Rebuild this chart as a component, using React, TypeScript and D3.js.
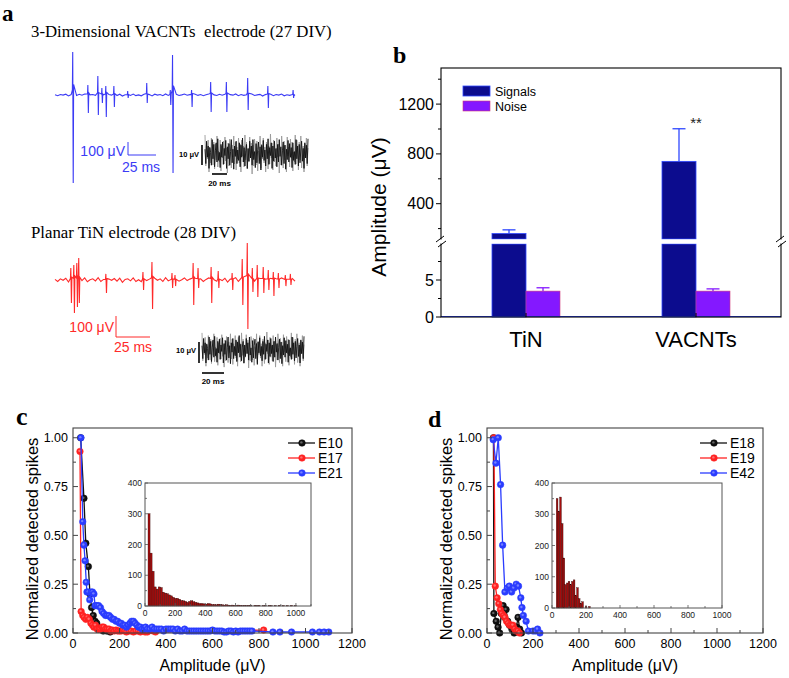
import React from 'react';
import * as d3 from 'd3';

// ---------------- Panel a data ----------------
// [time (ms), positive peak (µV), negative trough (µV)]
const blueSpikes: number[][] = [
  [16, 330, 677], [29.5, 77, 138], [38.4, 146, 154], [42, 54, 62], [45.5, 69, 169],
  [52.7, 69, 92], [65, 31, 23], [82, 92, 62], [103, 38, 77], [105, 308, 600],
  [122, 38, 92], [139, 100, 131], [153, 100, 131], [172, 131, 115], [190, 69, 100], [212.5, 38, 23],
];
const redSpikes: number[][] = [
  [11.8, 57, 110], [14.0, 71, 157], [16.2, 81, 129], [17.6, 105, 110], [37.5, 29, 62],
  [64.7, 38, 48], [71.3, 86, 138], [86.0, 33, 38], [88.2, 24, 29], [101.5, 81, 119],
  [105.1, 57, 38], [114.7, 62, 110], [119.9, 43, 38], [130.1, 33, 48], [137.5, 100, 119],
  [141.2, 176, 233], [144.9, 57, 57], [148.5, 71, 81], [152.9, 62, 62], [156.6, 48, 48],
  [160.3, 38, 76], [164.0, 33, 38], [169.1, 24, 29], [172.8, 29, 24],
];
const baselineJitter = [
  0.2, -0.5, 0.4, -0.1, 0.6, -0.7, 0.3, 0.0, -0.4, 0.5, -0.2, 0.7, -0.6, 0.1, 0.4, -0.3,
  0.8, -0.5, 0.2, -0.6, 0.3, -0.1, 0.5, -0.4, 0.6, -0.8, 0.2, 0.4, -0.3, 0.7, -0.5, 0.1,
  -0.6, 0.5, -0.2, 0.3, -0.7, 0.6, -0.1, 0.4, -0.5, 0.8, -0.3, 0.2, -0.6, 0.5, -0.4, 0.1,
  0.7, -0.2, 0.3, -0.8, 0.6, -0.3, 0.4, -0.5, 0.2, 0.7, -0.6, 0.1, -0.4, 0.5, -0.2, 0.6,
  -0.7, 0.3, -0.1, 0.8, -0.5, 0.4, -0.3, 0.2, -0.6, 0.7, -0.4, 0.1, 0.5, -0.8, 0.3, -0.2,
  0.6, -0.5, 0.4, -0.1, 0.7, -0.6, 0.2, -0.3, 0.5, -0.4,
];
const noiseTrace = [
  0.3, -0.6, 0.8, -0.2, 0.5, -0.9, 0.4, 0.1, -0.7, 0.9, -0.3, 0.6, -0.8, 0.2, 0.7, -0.5,
  0.95, -0.4, 0.1, -0.85, 0.6, -0.2, 0.75, -0.65, 0.35, -0.1, 0.85, -0.9, 0.45, -0.3, 0.65,
  -0.7, 0.15, 0.9, -0.55, 0.3, -0.95, 0.5, -0.15, 0.8, -0.6, 0.25, -0.4, 0.7, -0.8, 0.55,
  -0.2, 1.0, -0.5, 0.4, -0.75, 0.2, 0.6, -0.9, 0.35, -0.45, 0.8, -0.25, 0.5, -0.7, 0.9,
  -0.35, 0.15, -0.85, 0.65, -0.55, 0.3, 0.75, -0.6, 0.45, -1.0, 0.55, -0.2, 0.85, -0.4,
  0.25, -0.75, 0.6, -0.3, 0.95, -0.65, 0.4, -0.1, 0.7, -0.9, 0.5, -0.45, 0.8, -0.25, 0.35,
  -0.8, 0.6, -0.5, 0.9, -0.15, 0.45, -0.7, 0.2, 0.75, -0.6, 0.55, -0.95, 0.3, -0.35, 0.85,
  -0.5, 0.65, -0.2, 0.4, -0.85, 0.7, -0.4, 0.15, -0.65, 0.9, -0.3, 0.5, -0.75, 0.6, -0.55,
  0.25, 0.8, -0.45, 0.35, -0.9, 0.7, -0.25, 0.55, -0.6, 0.95,
];

// ---------------- Panel b data ----------------
const categories = ['TiN', 'VACNTs'];
const seriesNames = ['Signals', 'Noise'];
const signalMeans = [160, 740];
const signalErrors = [30, 262];
const noiseMeans = [3.5, 3.5];
const noiseErrors = [0.45, 0.3];
const lowerTicks = [0, 5];
const lowerMinor = [2.5, 7.5];
const upperTicks = [400, 800, 1200];
const upperMinor = [200, 600, 1000, 1400];

// ---------------- Panel c data ----------------
const cE10 = [[33,1.0],[47,0.69],[55,0.46],[66,0.34],[73,0.2],[80,0.13],[87,0.09],[95,0.06],[102,0.05],[109,0.02],[120,0.02],[130,0.01],[145,0.01],[160,0.005]];
const cE17 = [[30,0.93],[35,0.11],[42,0.09],[48,0.08],[55,0.07],[62,0.08],[70,0.07],[77,0.05],[84,0.04],[90,0.03],[97,0.04],[104,0.02],[111,0.02],[118,0.02],[125,0.03],[132,0.03],[140,0.02],[147,0.02],[155,0.02],[162,0.01],[170,0.015],[177,0.01],[185,0.015],[192,0.01],[200,0.01],[207,0.01],[215,0.015],[222,0.01],[230,0.005],[240,0.01],[250,0.01],[260,0.005],[270,0.01],[280,0.01],[290,0.005],[300,0.01],[310,0.005],[320,0.005],[335,0.015],[345,0.01],[355,0.005],[820,0.015]];
const cE21 = [[34,1.0],[42,0.57],[47,0.45],[52,0.37],[57,0.26],[60,0.21],[66,0.21],[72,0.17],[78,0.21],[84,0.21],[90,0.2],[95,0.14],[102,0.14],[110,0.14],[118,0.13],[125,0.11],[132,0.1],[140,0.09],[147,0.09],[155,0.09],[162,0.08],[170,0.07],[177,0.07],[185,0.06],[192,0.06],[200,0.05],[207,0.05],[215,0.04],[222,0.04],[230,0.03],[237,0.04],[245,0.05],[252,0.06],[260,0.06],[267,0.05],[275,0.04],[282,0.03],[290,0.03],[297,0.02],[305,0.02],[312,0.03],[320,0.02],[330,0.02],[340,0.03],[350,0.02],[360,0.02],[370,0.02],[380,0.02],[390,0.01],[400,0.02],[410,0.02],[420,0.02],[430,0.02],[440,0.01],[450,0.02],[460,0.01],[470,0.01],[480,0.02],[490,0.01],[500,0.01],[510,0.01],[520,0.01],[530,0.01],[540,0.01],[550,0.01],[560,0.01],[570,0.01],[580,0.01],[590,0.01],[600,0.015],[610,0.01],[620,0.01],[630,0.01],[640,0.01],[650,0.005],[660,0.005],[670,0.01],[680,0.01],[690,0.005],[700,0.01],[710,0.005],[720,0.01],[730,0.01],[740,0.01],[750,0.01],[760,0.01],[770,0.01],[860,0.005],[890,0.005],[940,0.005],[1030,0.005],[1060,0.005],[1080,0.005],[1100,0.005]];
const cLegend = ['E10', 'E17', 'E21'];
const histCStart = 20;
const histCWidth = 13.5;
const histCCounts = [300,172,113,62,55,62,60,45,42,40,36,33,28,25,25,22,18,17,15,12,15,17,14,12,10,8,8,7,6,8,7,5,5,4,6,5,4,3,4,3,2,3,2,2,3,2,1,2,1,2,1,0,2,1,2,0,1,1,0,2,1,0,1,0,2,0,1,0,1,0,2,0,1];

// ---------------- Panel d data ----------------
const dE18 = [[28,1.0],[30,0.1],[40,0.06],[48,0.03],[55,0.0],[62,0.1],[70,0.14],[77,0.08],[83,0.12],[90,0.06],[98,0.04],[108,0.02],[118,0.0],[128,0.03],[135,0.08],[142,0.02],[150,0.0]];
const dE19 = [[30,1.0],[36,0.24],[44,0.18],[51,0.15],[58,0.12],[65,0.1],[72,0.09],[78,0.08],[85,0.06],[92,0.05],[99,0.04],[106,0.04],[113,0.04],[120,0.02],[127,0.01],[134,0.01],[141,0.0]];
const dE42 = [[27,0.99],[39,0.87],[49,1.0],[59,0.76],[68,0.45],[78,0.21],[88,0.23],[97,0.24],[107,0.21],[117,0.23],[127,0.25],[137,0.24],[147,0.18],[152,0.13],[158,0.09],[170,0.06],[180,0.01],[200,0.01],[210,0.01],[220,0.02],[230,0.0]];
const dLegend = ['E18', 'E19', 'E42'];
const histDStart = 25;
const histDWidth = 10;
const histDCounts = [350,310,355,270,160,75,80,85,75,85,90,40,65,30,15,20,0,5,0,5];

const mainXTicks = [0, 200, 400, 600, 800, 1000, 1200];
const mainYTicks = [0, 0.25, 0.5, 0.75, 1.0];
const insetCXTicks = [0, 200, 400, 600, 800, 1000];
const insetDXTicks = [0, 200, 400, 600, 800, 1000];
const insetYTicks = [0, 100, 200, 300, 400];

const sans = "'Liberation Sans', Arial, Helvetica, sans-serif";
const serif = "'Liberation Serif', 'Times New Roman', serif";
const seriesColors = ['#111111', '#ff2222', '#2a3cff'];

function buildTrace(spikes: number[][], duration: number, jitterAmp: number) {
  const pts: number[][] = [];
  baselineJitter.forEach((j, i) => {
    const t = (i * duration) / (baselineJitter.length - 1);
    if (!spikes.some((s) => Math.abs(s[0] - t) < 1.2)) pts.push([t, j * jitterAmp]);
  });
  spikes.forEach(([t, up, down]) => {
    pts.push([t - 0.5, up * 0.12], [t - 0.2, up], [t + 0.25, -down], [t + 0.6, down * 0.12]);
  });
  return pts.sort((a, b) => a[0] - b[0]);
}

function SpikeTrace({ spikes, duration, x0, x1, y0, pxPer100, color, jitterAmp }: any) {
  const x = d3.scaleLinear().domain([0, duration]).range([x0, x1]);
  const y = d3.scaleLinear().domain([0, 100]).range([y0, y0 - pxPer100]);
  const line = d3.line<number[]>().x((d) => x(d[0])).y((d) => y(d[1]));
  return <path d={line(buildTrace(spikes, duration, jitterAmp)) || ''} fill="none" stroke={color} strokeWidth={1.1} />;
}

function NoiseBox({ x0, x1, cy, half, labelX, barX, barTop, barBot, sbX0, sbX1, sbY, sbTextY }: any) {
  const n = noiseTrace.length;
  const x = d3.scaleLinear().domain([0, n - 1]).range([x0, x1]);
  const y = d3.scaleLinear().domain([-1, 1]).range([cy + half, cy - half]);
  const line = d3.line<number>().x((_, i) => x(i)).y((d) => y(d));
  const rev = [...noiseTrace].reverse();
  return (
    <g>
      <path d={line(rev) || ''} fill="none" stroke="#9a9a9a" strokeWidth={0.9} />
      <path d={line(noiseTrace.map((v) => v * 0.8)) || ''} fill="none" stroke="#111" strokeWidth={0.9} />
      <text x={labelX} y={cy + 3} fontFamily={sans} fontSize={7.5} fontWeight="bold" textAnchor="end">10 μV</text>
      <line x1={barX} x2={barX} y1={barTop} y2={barBot} stroke="#000" strokeWidth={1.6} />
      <line x1={sbX0} x2={sbX1} y1={sbY} y2={sbY} stroke="#000" strokeWidth={1.6} />
      <text x={(sbX0 + sbX1) / 2} y={sbTextY} fontFamily={sans} fontSize={8} fontWeight="bold" textAnchor="middle">20 ms</text>
    </g>
  );
}

function PanelB() {
  const left = 441, right = 781, top = 68, bottom = 317;
  const lower = d3.scaleLinear().domain([0, 5]).range([317, 280]);
  const upper = d3.scaleLinear().domain([400, 1200]).range([203.7, 104.1]);
  const gapTop = 239, gapBot = 244;
  const xb = d3.scaleBand().domain(categories).range([left, right]).paddingInner(0.6).paddingOuter(0.3);
  const xs = d3.scaleBand().domain(seriesNames).range([0, xb.bandwidth()]);
  const bw = xs.bandwidth();
  const sigFill = '#0c0c8e', sigStroke = '#2f48ff';
  const noiseFill = '#8418ff', noiseStroke = '#d03a7a';
  return (
    <g>
      {categories.map((c, i) => {
        const xS = (xb(c) as number) + (xs('Signals') as number);
        const xN = (xb(c) as number) + (xs('Noise') as number);
        const sTop = upper(signalMeans[i]);
        const sErr = upper(signalMeans[i] + signalErrors[i]);
        const nTop = lower(noiseMeans[i]);
        const nErr = lower(noiseMeans[i] + noiseErrors[i]);
        return (
          <g key={c}>
            <line x1={xS + bw / 2} x2={xS + bw / 2} y1={sTop} y2={sErr} stroke={sigStroke} strokeWidth={1.3} />
            <line x1={xS + bw / 2 - 6.5} x2={xS + bw / 2 + 6.5} y1={sErr} y2={sErr} stroke={sigStroke} strokeWidth={1.3} />
            <rect x={xS} y={sTop} width={bw} height={gapTop - sTop} fill={sigFill} stroke={sigStroke} strokeWidth={0.8} />
            <rect x={xS} y={gapBot} width={bw} height={bottom - gapBot} fill={sigFill} stroke={sigStroke} strokeWidth={0.8} />
            <line x1={xN + bw / 2} x2={xN + bw / 2} y1={nTop} y2={nErr} stroke={noiseFill} strokeWidth={1.3} />
            <line x1={xN + bw / 2 - 6.5} x2={xN + bw / 2 + 6.5} y1={nErr} y2={nErr} stroke={noiseFill} strokeWidth={1.3} />
            <rect x={xN} y={nTop} width={bw} height={bottom - nTop} fill={noiseFill} stroke={noiseStroke} strokeWidth={0.6} />
          </g>
        );
      })}
      <text x={(xb('VACNTs') as number) + bw} y={128} fontFamily={sans} fontSize={15} textAnchor="middle" fill="#222">**</text>
      <line x1={left} x2={right} y1={bottom - 0.5} y2={bottom - 0.5} stroke="#2f48ff" strokeWidth={1} />
      <rect x={left} y={top} width={right - left} height={bottom - top} fill="none" stroke="#000" strokeWidth={1.1} />
      <rect x={left - 6} y={gapTop + 0.5} width={right - left + 12} height={gapBot - gapTop - 1} fill="#fff" />
      {[left, right].map((bx) => (
        <g key={bx}>
          <line x1={bx - 5} x2={bx + 3} y1={gapTop + 3} y2={gapTop - 3} stroke="#000" strokeWidth={1} />
          <line x1={bx - 3} x2={bx + 5} y1={gapBot + 3} y2={gapBot - 3} stroke="#000" strokeWidth={1} />
        </g>
      ))}
      {lowerTicks.map((t) => (
        <g key={'l' + t}>
          <line x1={left - 5} x2={left} y1={lower(t)} y2={lower(t)} stroke="#000" />
          <text x={left - 7} y={lower(t) + 5.5} fontFamily={sans} fontSize={16} textAnchor="end">{t}</text>
        </g>
      ))}
      {lowerMinor.map((t) => (
        <line key={'lm' + t} x1={left - 3} x2={left} y1={lower(t)} y2={lower(t)} stroke="#000" />
      ))}
      {upperTicks.map((t) => (
        <g key={'u' + t}>
          <line x1={left - 5} x2={left} y1={upper(t)} y2={upper(t)} stroke="#000" />
          <text x={left - 7} y={upper(t) + 5.5} fontFamily={sans} fontSize={16} textAnchor="end">{t}</text>
        </g>
      ))}
      {upperMinor.map((t) => (
        <line key={'um' + t} x1={left - 3} x2={left} y1={upper(t)} y2={upper(t)} stroke="#000" />
      ))}
      {categories.map((c) => (
        <g key={'c' + c}>
          <line x1={(xb(c) as number) + bw} x2={(xb(c) as number) + bw} y1={bottom} y2={bottom - 4} stroke="#000" />
          <text x={(xb(c) as number) + bw} y={347} fontFamily={sans} fontSize={22} textAnchor="middle">{c}</text>
        </g>
      ))}
      <text transform={`translate(386,207) rotate(-90)`} fontFamily={sans} fontSize={21} textAnchor="middle">Amplitude (μV)</text>
      <rect x={463} y={86} width={27} height={10} fill={sigFill} stroke={sigStroke} strokeWidth={0.8} />
      <rect x={463} y={101} width={27} height={10} fill={noiseFill} stroke={noiseStroke} strokeWidth={0.6} />
      <text x={495} y={95.5} fontFamily={sans} fontSize={12.5}>Signals</text>
      <text x={495} y={110.5} fontFamily={sans} fontSize={12.5}>Noise</text>
    </g>
  );
}

function Inset({ x0, x1, y0, y1, xMax, xTicks, start, width, counts }: any) {
  const x = d3.scaleLinear().domain([0, xMax]).range([x0, x1]);
  const y = d3.scaleLinear().domain([0, 400]).range([y0, y1]);
  const minorX = d3.range(100, xMax + 1, 200);
  const minorY = [50, 150, 250, 350];
  return (
    <g>
      {counts.map((c: number, i: number) =>
        c > 0 ? (
          <rect key={i} x={x(start + i * width)} y={y(c)} width={x(width) - x(0)} height={y0 - y(c)}
            fill="#a50d0d" stroke="#2a0000" strokeWidth={0.35} />
        ) : null
      )}
      <rect x={x0} y={y1} width={x1 - x0} height={y0 - y1} fill="none" stroke="#555" strokeWidth={1} />
      {xTicks.map((t: number) => (
        <g key={'x' + t}>
          <line x1={x(t)} x2={x(t)} y1={y0} y2={y0 - 3} stroke="#555" strokeWidth={0.8} />
          <text x={x(t)} y={y0 + 10} fontFamily={sans} fontSize={8.5} textAnchor="middle" fill="#222">{t}</text>
        </g>
      ))}
      {minorX.map((t: number) => (
        <line key={'mx' + t} x1={x(t)} x2={x(t)} y1={y0} y2={y0 - 2} stroke="#555" strokeWidth={0.8} />
      ))}
      {insetYTicks.map((t) => (
        <g key={'y' + t}>
          <line x1={x0} x2={x0 + 3} y1={y(t)} y2={y(t)} stroke="#555" strokeWidth={0.8} />
          <text x={x0 - 3} y={y(t) + 3} fontFamily={sans} fontSize={8.5} textAnchor="end" fill="#222">{t}</text>
        </g>
      ))}
      {minorY.map((t) => (
        <line key={'my' + t} x1={x0} x2={x0 + 2} y1={y(t)} y2={y(t)} stroke="#555" strokeWidth={0.8} />
      ))}
    </g>
  );
}

function Marker({ cx, cy, color, dark }: any) {
  return (
    <g>
      <circle cx={cx} cy={cy} r={3.3} fill={color} stroke={dark ? '#000' : color} strokeWidth={0.5} />
      <circle cx={cx - 0.6} cy={cy - 0.6} r={1.2} fill="#fff" opacity={0.35} />
    </g>
  );
}

function LinePanel({ x0, x1, series, legend, legX, labelX }: any) {
  const top = 428, bottom = 633;
  const x = d3.scaleLinear().domain([0, 1200]).range([x0, x1]);
  const y = d3.scaleLinear().domain([0, 1.05]).range([bottom, top]);
  const line = d3.line<number[]>().x((d) => x(d[0])).y((d) => y(d[1]));
  const minorX = d3.range(100, 1200, 200);
  const minorY = [0.125, 0.375, 0.625, 0.875];
  return (
    <g>
      {series.map((s: number[][], k: number) => (
        <g key={k}>
          <path d={line(s) || ''} fill="none" stroke={seriesColors[k]} strokeWidth={1.3} />
          {s.map((p, i) => (
            <Marker key={i} cx={x(p[0])} cy={y(p[1])} color={seriesColors[k]} dark={k === 0} />
          ))}
        </g>
      ))}
      <rect x={x0} y={top} width={x1 - x0} height={bottom - top} fill="none" stroke="#444" strokeWidth={1.1} />
      {mainXTicks.map((t) => (
        <g key={'x' + t}>
          <line x1={x(t)} x2={x(t)} y1={bottom} y2={bottom - 5} stroke="#444" />
          <text x={x(t)} y={648} fontFamily={sans} fontSize={12.5} textAnchor="middle">{t}</text>
        </g>
      ))}
      {minorX.map((t: number) => (
        <line key={'mx' + t} x1={x(t)} x2={x(t)} y1={bottom} y2={bottom - 3} stroke="#444" />
      ))}
      {mainYTicks.map((t) => (
        <g key={'y' + t}>
          <line x1={x0} x2={x0 + 5} y1={y(t)} y2={y(t)} stroke="#444" />
          <text x={x0 - 5} y={y(t) + 4.5} fontFamily={sans} fontSize={12.5} textAnchor="end">{d3.format('.2f')(t)}</text>
        </g>
      ))}
      {minorY.map((t) => (
        <line key={'my' + t} x1={x0} x2={x0 + 3} y1={y(t)} y2={y(t)} stroke="#444" />
      ))}
      <text x={(x0 + x1) / 2} y={671} fontFamily={sans} fontSize={16} textAnchor="middle">Amplitude (μV)</text>
      <text transform={`translate(${labelX},539) rotate(-90)`} fontFamily={sans} fontSize={16.5} textAnchor="middle">Normalized detected spikes</text>
      {legend.map((name: string, k: number) => (
        <g key={name}>
          <line x1={legX} x2={legX + 27} y1={443 + k * 15} y2={443 + k * 15} stroke={seriesColors[k]} strokeWidth={1.3} />
          <Marker cx={legX + 14} cy={443 + k * 15} color={seriesColors[k]} dark={k === 0} />
          <text x={legX + 30} y={448 + k * 15} fontFamily={sans} fontSize={14}>{name}</text>
        </g>
      ))}
    </g>
  );
}

export default function App() {
  return (
    <svg width={789} height={678} style={{ position: 'absolute', left: 0, top: 0, background: '#fff' }}>
      <rect width={789} height={678} fill="#fff" />
      <text x={2} y={21} fontFamily={serif} fontWeight="bold" fontSize={23}>a</text>
      <text x={393} y={63} fontFamily={serif} fontWeight="bold" fontSize={24}>b</text>
      <text x={16} y={425} fontFamily={serif} fontWeight="bold" fontSize={26}>c</text>
      <text x={428} y={427} fontFamily={serif} fontWeight="bold" fontSize={24}>d</text>

      {/* Panel a */}
      <text x={31} y={37} fontFamily={serif} fontSize={16.8} xmlSpace="preserve" style={{ whiteSpace: 'pre' }}>3-Dimensional VACNTs  electrode (27 DIV)</text>
      <SpikeTrace spikes={blueSpikes} duration={214} x0={55} x1={295} y0={95} pxPer100={13} color="#3b3bf5" jitterAmp={10} />
      <text x={125} y={156} fontFamily={sans} fontSize={14} fill="#3b3bf5" textAnchor="end">100 μV</text>
      <line x1={128} x2={128} y1={142} y2={155} stroke="#3b3bf5" strokeWidth={1} />
      <line x1={128} x2={156} y1={155} y2={155} stroke="#3b3bf5" strokeWidth={1} />
      <text x={141} y={172} fontFamily={sans} fontSize={14} fill="#3b3bf5" textAnchor="middle">25 ms</text>
      <NoiseBox x0={205} x1={308} cy={154} half={20} labelX={199} barX={202} barTop={145} barBot={165}
        sbX0={212} sbX1={227} sbY={174} sbTextY={186} />

      <text x={31} y={238} fontFamily={serif} fontSize={16.8}>Planar TiN electrode (28 DIV)</text>
      <SpikeTrace spikes={redSpikes} duration={176} x0={55} x1={295} y0={280} pxPer100={21} color="#ff2a2a" jitterAmp={14} />
      <text x={114} y={332} fontFamily={sans} fontSize={14} fill="#ff2a2a" textAnchor="end">100 μV</text>
      <line x1={116} x2={116} y1={316} y2={337} stroke="#ff2a2a" strokeWidth={1} />
      <line x1={116} x2={150} y1={337} y2={337} stroke="#ff2a2a" strokeWidth={1} />
      <text x={133} y={352} fontFamily={sans} fontSize={14} fill="#ff2a2a" textAnchor="middle">25 ms</text>
      <NoiseBox x0={202} x1={304} cy={350} half={18} labelX={196} barX={199} barTop={342} barBot={363}
        sbX0={202} sbX1={224} sbY={373} sbTextY={384} />

      <PanelB />

      <LinePanel x0={73} x1={352} series={[cE10, cE17, cE21]} legend={cLegend} legX={288} labelX={38} />
      <Inset x0={145} x1={311} y0={606} y1={483} xMax={1100} xTicks={insetCXTicks}
        start={histCStart} width={histCWidth} counts={histCCounts} />

      <LinePanel x0={487} x1={763} series={[dE18, dE19, dE42]} legend={dLegend} legX={700} labelX={452} />
      <Inset x0={552} x1={722} y0={608} y1={483} xMax={1000} xTicks={insetDXTicks}
        start={histDStart} width={histDWidth} counts={histDCounts} />
    </svg>
  );
}
